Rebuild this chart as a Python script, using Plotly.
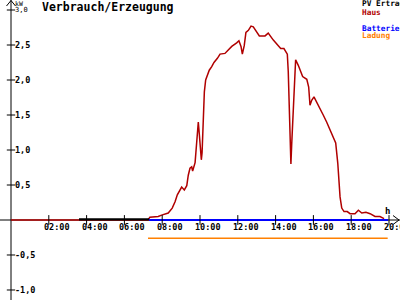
import plotly.graph_objects as go

# ---- data ----
haus_h = [0.0, 7.25, 7.35, 7.79, 7.97, 8.32, 8.53, 8.68, 8.80, 8.94, 9.03, 9.17, 9.30, 9.38, 9.47,
          9.56, 9.61, 9.74, 9.79, 9.86, 9.91, 9.96, 10.02, 10.07, 10.11, 10.17, 10.23, 10.30, 10.41,
          10.49, 10.62, 10.74, 10.92, 11.06, 11.32, 11.50, 11.68, 11.94, 12.06, 12.17, 12.24, 12.34,
          12.43, 12.56, 12.70, 12.82, 12.96, 13.14, 13.44, 13.61, 13.88, 14.09, 14.27, 14.44, 14.62,
          14.67, 14.72, 14.78, 14.81, 14.85, 14.94, 14.99, 15.06, 15.20, 15.33, 15.43, 15.65, 15.75,
          15.82, 15.91, 16.03, 16.17, 16.35, 16.52, 16.70, 16.88, 17.05, 17.18, 17.29, 17.35, 17.41,
          17.50, 17.62, 17.79, 17.94, 18.20, 18.38, 18.56, 18.78, 19.00, 19.26, 19.52, 19.74]
haus_kw = [0.0, 0.0, 0.04, 0.05, 0.07, 0.10, 0.17, 0.26, 0.36, 0.44, 0.47, 0.43, 0.49, 0.64, 0.74,
           0.76, 0.70, 0.82, 0.98, 1.33, 1.40, 1.24, 1.05, 0.86, 0.96, 1.43, 1.83, 2.00, 2.07,
           2.14, 2.19, 2.25, 2.31, 2.37, 2.38, 2.43, 2.48, 2.53, 2.56, 2.48, 2.37, 2.49,
           2.68, 2.71, 2.77, 2.76, 2.71, 2.63, 2.63, 2.67, 2.57, 2.51, 2.45, 2.45, 2.37,
           2.12, 1.60, 1.07, 0.80, 1.07, 1.60, 1.98, 2.29, 2.21, 2.12, 2.05, 2.01, 1.90,
           1.64, 1.71, 1.76, 1.69, 1.60, 1.50, 1.40, 1.29, 1.19, 1.10, 0.81, 0.52, 0.33,
           0.17, 0.12, 0.12, 0.09, 0.09, 0.14, 0.10, 0.11, 0.09, 0.05, 0.05, 0.02]
pv_h = [3.6, 7.3]
pv_kw = [0.01, 0.01]
batt_h = [7.3, 19.95]
batt_kw = [0.0, 0.0]
ladung_h = [7.25, 19.93]
ladung_kw = [-0.26, -0.26]

x_ticks = [2, 4, 6, 8, 10, 12, 14, 16, 18, 20]
x_labels = ["02:00", "04:00", "06:00", "08:00", "10:00", "12:00", "14:00", "16:00", "18:00", "20:00"]
y_ticks = [-1.0, -0.5, 0.5, 1.0, 1.5, 2.0, 2.5, 3.0]
y_labels = ["-1,0", "-0,5", "0,5", "1,0", "1,5", "2,0", "2,5", "3,0"]

legend_names = ["PV Ertrag", "Haus", "Batterie", "Ladung"]
legend_colors = ["#000000", "#b00000", "#0000ff", "#ff8000"]
legend_ypix = [4, 12, 28, 35.5]

X0, X1 = -0.582, 20.582
Y0, Y1 = -1.143, 3.143
FONT = "DejaVu Sans Mono"
W, H = 400, 300


def px(x):
    return x / W


def py(y):
    return 1 - y / H


fig = go.Figure()

fig.add_trace(go.Scatter(x=haus_h, y=haus_kw, mode="lines",
                         line=dict(color="#b00000", width=1.5), hoverinfo="skip"))
fig.add_trace(go.Scatter(x=pv_h, y=pv_kw, mode="lines",
                         line=dict(color="#000000", width=2.2), hoverinfo="skip"))
fig.add_trace(go.Scatter(x=batt_h, y=batt_kw, mode="lines",
                         line=dict(color="#0000ff", width=1.8), hoverinfo="skip"))
fig.add_trace(go.Scatter(x=ladung_h, y=ladung_kw, mode="lines",
                         line=dict(color="#ff8000", width=1.5), hoverinfo="skip"))

# tick marks
fig.add_trace(go.Scatter(x=x_ticks, y=[0] * len(x_ticks), mode="markers",
                         marker=dict(symbol="line-ns", size=7, line=dict(color="black", width=1)),
                         hoverinfo="skip"))
fig.add_trace(go.Scatter(x=[0] * len(y_ticks), y=y_ticks, mode="markers",
                         marker=dict(symbol="line-ew", size=6, line=dict(color="black", width=1)),
                         hoverinfo="skip"))

shapes = [
    dict(type="line", xref="x", yref="y", x0=X0, x1=X1, y0=0, y1=0, layer="below",
         line=dict(color="black", width=1)),
    dict(type="line", xref="x", yref="y", x0=0, x1=0, y0=Y0, y1=Y1, layer="below",
         line=dict(color="black", width=1)),
    # arrow heads (open chevrons)
    dict(type="path", xref="paper", yref="paper",
         path=f"M {px(393)} {py(215.5)} L {px(399)} {py(220)} L {px(393)} {py(224.5)}",
         line=dict(color="black", width=1)),
    dict(type="path", xref="paper", yref="paper",
         path=f"M {px(6.5)} {py(6)} L {px(11)} {py(0.5)} L {px(15.5)} {py(6)}",
         line=dict(color="black", width=1)),
]

ann = []
for t, lab in zip(x_ticks, x_labels):
    ann.append(dict(x=t + 0.42, y=-0.1, xref="x", yref="y", text=lab, showarrow=False,
                    xanchor="center", yanchor="middle",
                    font=dict(family=FONT, size=8.5, color="black", weight="bold")))
for v, lab in zip(y_ticks, y_labels):
    small = v >= 3.0
    ann.append(dict(x=0.12, y=v + (0.005 if small else 0), xref="x", yref="y", text=lab, showarrow=False,
                    xanchor="left", yanchor="middle",
                    font=dict(family=FONT, size=7 if small else 8.5, color="black",
                              weight="normal" if small else "bold")))
ann.append(dict(x=0.12, y=3.088, xref="x", yref="y", text="kW", showarrow=False,
                xanchor="left", yanchor="middle", font=dict(family=FONT, size=6.5, color="black")))
ann.append(dict(x=19.9, y=0.13, xref="x", yref="y", text="h", showarrow=False,
                xanchor="center", yanchor="middle",
                font=dict(family=FONT, size=9, color="black", weight="bold")))

ann.append(dict(x=px(40), y=py(7), xref="paper", yref="paper", text="Verbrauch/Erzeugung",
                showarrow=False, xanchor="left", yanchor="middle",
                font=dict(family=FONT, size=11.5, color="black", weight="bold")))
for name, col, yp in zip(legend_names, legend_colors, legend_ypix):
    ann.append(dict(x=px(360), y=py(yp), xref="paper", yref="paper", text=name,
                    showarrow=False, xanchor="left", yanchor="middle",
                    font=dict(family=FONT, size=7.8, color=col, weight="bold")))

fig.update_layout(
    width=W, height=H, margin=dict(l=0, r=0, t=0, b=0),
    paper_bgcolor="white", plot_bgcolor="white", showlegend=False,
    xaxis=dict(range=[X0, X1], visible=False, fixedrange=True),
    yaxis=dict(range=[Y0, Y1], visible=False, fixedrange=True),
    annotations=ann, shapes=shapes,
)

fig.write_html("out.html")
